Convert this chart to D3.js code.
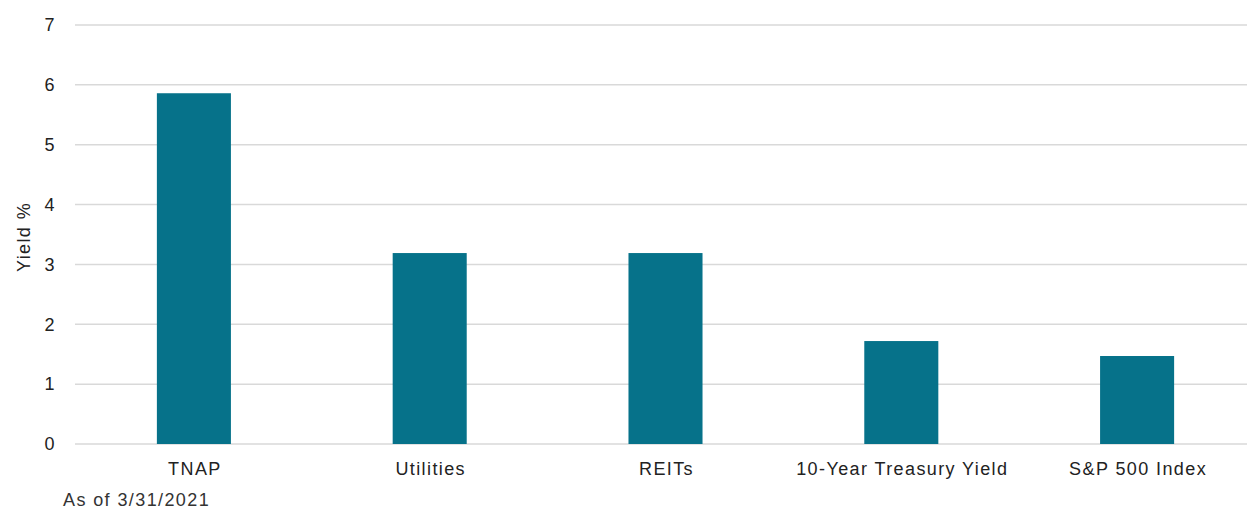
<!DOCTYPE html>
<html><head><meta charset="utf-8">
<script src="https://cdn.jsdelivr.net/npm/d3@7/dist/d3.min.js"></script>
<style>body{margin:0;background:#fff;}svg{display:block;}text{font-family:"Liberation Sans",Arial,sans-serif;letter-spacing:1.4px;}</style>
</head><body>
<svg id="c" width="1248" height="510"></svg>
<script>
const categories = ["TNAP", "Utilities", "REITs", "10-Year Treasury Yield", "S&P 500 Index"];
const values = [5.86, 3.19, 3.19, 1.72, 1.47];
const yTicks = [0, 1, 2, 3, 4, 5, 6, 7];

const svg = d3.select("#c");
const y = d3.scaleLinear().domain([0, 7]).range([444, 25]);
const x = d3.scaleBand().domain(categories).range([76, 1255]).padding(0);
const barW = x.bandwidth() * 0.314;

// gridlines
svg.append("g").selectAll("line").data(yTicks).join("line")
  .attr("x1", 75).attr("x2", 1247)
  .attr("y1", d => y(d)).attr("y2", d => y(d))
  .attr("stroke", "#d9d9d9").attr("stroke-width", 1.5);

// y axis labels
const yAxis = d3.axisLeft(y).tickValues(yTicks).tickFormat(d3.format("d")).tickSize(0).tickPadding(0);
const ya = svg.append("g").attr("transform", "translate(56,0)").call(yAxis);
ya.select(".domain").remove();
ya.selectAll("text").attr("font-size", 18).attr("fill", "#222").attr("font-family", "Liberation Sans, Arial, sans-serif");

// bars
svg.append("g").selectAll("rect").data(values).join("rect")
  .attr("x", (d, i) => x(categories[i]) + x.bandwidth() / 2 - barW / 2)
  .attr("width", barW)
  .attr("y", d => y(d))
  .attr("height", d => y(0) - y(d))
  .attr("fill", "#06728A");

// x axis labels
const xAxis = d3.axisBottom(x).tickSize(0).tickPadding(0);
const xa = svg.append("g").attr("transform", "translate(1,462)").call(xAxis);
xa.select(".domain").remove();
xa.selectAll("text").attr("font-size", 18).attr("fill", "#222").attr("font-family", "Liberation Sans, Arial, sans-serif");

// y axis title
svg.append("text").attr("transform", "translate(30,237) rotate(-90)")
  .attr("text-anchor", "middle").attr("font-size", 18).attr("fill", "#222")
  .text("Yield %");

// footnote
svg.append("text").attr("x", 63).attr("y", 506)
  .attr("font-size", 18).attr("fill", "#333")
  .text("As of 3/31/2021");
</script>
</body></html>
